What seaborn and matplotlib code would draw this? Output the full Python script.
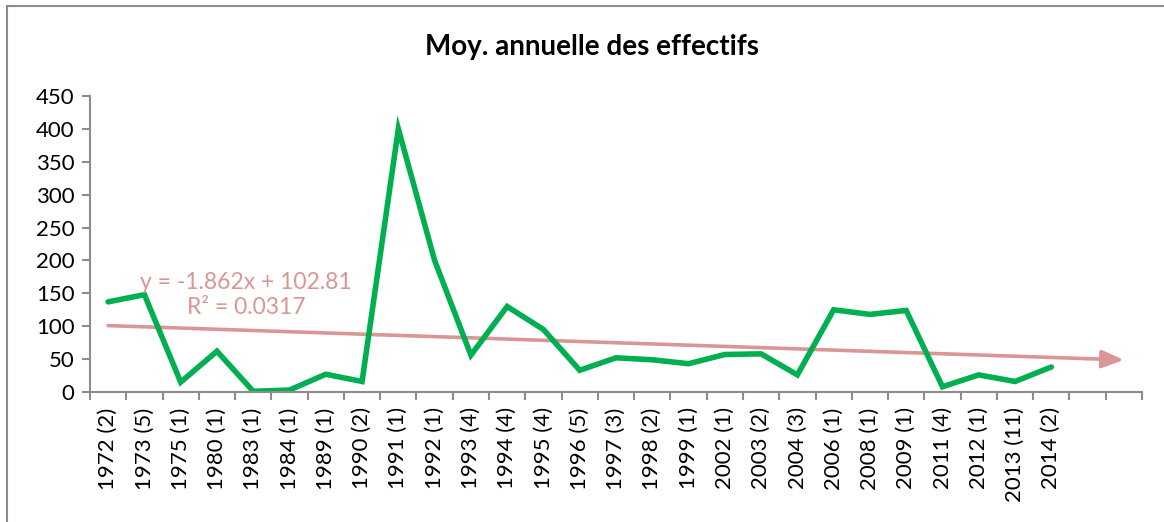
import numpy as np
import pandas as pd
import matplotlib
matplotlib.use("Agg")
import matplotlib.pyplot as plt
import seaborn as sns
from matplotlib.patches import Rectangle

# data
years = ["1972 (2)", "1973 (5)", "1975 (1)", "1980 (1)", "1983 (1)", "1984 (1)",
         "1989 (1)", "1990 (2)", "1991 (1)", "1992 (1)", "1993 (4)", "1994 (4)",
         "1995 (4)", "1996 (5)", "1997 (3)", "1998 (2)", "1999 (1)", "2002 (1)",
         "2003 (2)", "2004 (3)", "2006 (1)", "2008 (1)", "2009 (1)", "2011 (4)",
         "2012 (1)", "2013 (11)", "2014 (2)"]
effectifs = [137, 148, 15, 62, 1, 3, 27, 16, 400, 200, 56, 130, 95, 33,
             52, 49, 43, 57, 58, 26, 125, 118, 124, 8, 26, 16, 38]
# trendline from the chart label, forward forecast of 2 periods
slope = -1.862
intercept = 102.81
r2 = 0.0317
forward = 2

sns.set_theme(style="white")
plt.rcParams['font.family'] = ['Lato', 'DejaVu Sans']
plt.rcParams['text.color'] = 'black'
plt.rcParams['xtick.labelcolor'] = 'black'
plt.rcParams['ytick.labelcolor'] = 'black'

df = pd.DataFrame({"idx": np.arange(len(years)), "val": effectifs})
n_slots = len(years) + forward

fig = plt.figure(figsize=(11.64, 5.22), dpi=100)
ax = fig.add_axes([90 / 1164, 1 - 392 / 522, (1142 - 90) / 1164, (392 - 96) / 522])

# outer chart border
fig.patches.append(Rectangle((7 / 1164, -0.1), 1.2, 1 - 6 / 522 + 0.1,
                             transform=fig.transFigure, fill=False,
                             edgecolor="#8c8c8c", linewidth=1.5))

sns.lineplot(data=df, x="idx", y="val", ax=ax, color="#00B050", linewidth=4,
             solid_joinstyle="miter", solid_capstyle="round")

# linear trend (x = 1..n in Excel terms) with an arrow head at the end
tx = np.arange(1, n_slots + 1) - 1
ty = slope * np.arange(1, n_slots + 1) + intercept
pink = "#D99694"
ax.plot(tx[:-1], ty[:-1], color=pink, linewidth=2.6, zorder=1)
ax.annotate("", xy=(tx[-1], ty[-1]), xytext=(tx[-2], ty[-2]),
            arrowprops=dict(arrowstyle="-|>,head_length=1.1,head_width=0.45",
                            color=pink, lw=2.6, shrinkA=0, shrinkB=0))
ax.text(3.8, 147, f"y = {slope}x + {intercept}\nR² = {r2}", color=pink,
        fontsize=16.5, ha="center", va="center", linespacing=1.25)

ax.set_xlim(-0.5, n_slots - 0.5)
ax.set_ylim(0, 450)
ax.set_yticks(np.arange(0, 451, 50))
ax.set_xticks(np.arange(len(years)))
ax.set_xticklabels(years, rotation=90, va="top", ha="center", fontsize=16)
ax.set_xticks(np.arange(-0.5, n_slots, 1), minor=True)
ax.tick_params(axis="x", which="major", length=0, pad=11)
ax.tick_params(axis="x", which="minor", length=6, width=1.5, color="#8c8c8c", direction="out", bottom=True)
ax.tick_params(axis="y", length=6, width=1.5, color="#8c8c8c", direction="out", left=True, labelsize=16, pad=5)
ax.set_xlabel("")
ax.set_ylabel("")

for side in ["top", "right"]:
    ax.spines[side].set_visible(False)
for side in ["left", "bottom"]:
    ax.spines[side].set_color("#8c8c8c")
    ax.spines[side].set_linewidth(1.5)

fig.text(592 / 1164, 1 - 47 / 522, "Moy. annuelle des effectifs", ha="center", va="center",
         fontsize=20, fontweight="bold")

fig.savefig("out.png", dpi=100)
